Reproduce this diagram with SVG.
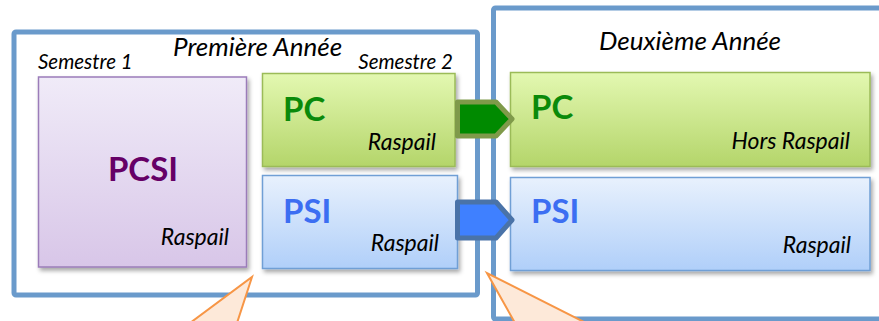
<svg xmlns="http://www.w3.org/2000/svg" width="879" height="321" viewBox="0 0 879 321">
<style>
.frame{fill:#ffffff;stroke:#6a9acb;stroke-width:5}
.lbl{font-family:Lato,"Open Sans","Liberation Sans",sans-serif;font-style:italic;fill:#000000}
.big{font-family:Lato,"Open Sans","Liberation Sans",sans-serif;font-weight:bold;font-size:33px}
.sm{font-size:20.5px}
.md{font-size:23px}
.ttl{font-size:26px}
.box{stroke-width:1.5;filter:url(#sh)}
.call{fill:#fde9d9;stroke:#f79646;stroke-width:2;stroke-linejoin:miter}
</style>
<defs>
<filter id="sh" x="-10%" y="-10%" width="125%" height="130%">
<feDropShadow dx="2" dy="3" stdDeviation="2" flood-color="#000000" flood-opacity="0.35"/>
</filter>
<linearGradient id="gPurple" x1="0" y1="0" x2="0" y2="1">
<stop offset="0" stop-color="#f0ebf8"/><stop offset="1" stop-color="#d8c6e8"/>
</linearGradient>
<linearGradient id="gGreen" x1="0" y1="0" x2="0" y2="1">
<stop offset="0" stop-color="#e3f8b1"/><stop offset="1" stop-color="#b4d56a"/>
</linearGradient>
<linearGradient id="gBlue" x1="0" y1="0" x2="0" y2="1">
<stop offset="0" stop-color="#e8f1fd"/><stop offset="1" stop-color="#b0cff9"/>
</linearGradient>
</defs>

<g id="premiere-annee">
<rect class="frame" x="14" y="32" width="463.5" height="263" rx="2"/>
<text class="lbl ttl" x="173" y="56">Première Année</text>
<text class="lbl sm" x="38" y="69">Semestre 1</text>
<text class="lbl sm" x="453" y="69" text-anchor="end">Semestre 2</text>
</g>

<g id="deuxieme-annee">
<rect class="frame" x="493.5" y="8" width="400" height="311" rx="2"/>
<text class="lbl ttl" x="690" y="50" text-anchor="middle">Deuxième Année</text>
</g>

<g id="pcsi">
<rect class="box" x="38.5" y="77" width="208" height="190" fill="url(#gPurple)" stroke="#9b7cb9"/>
<text class="big" x="143" y="181" text-anchor="middle" fill="#660066">PCSI</text>
<text class="lbl md" x="229" y="245" text-anchor="end">Raspail</text>
</g>

<g id="pc1">
<rect class="box" x="262.5" y="73.5" width="192.5" height="93" fill="url(#gGreen)" stroke="#9bbb59"/>
<text class="big" x="283" y="121" fill="#0a8a0a">PC</text>
<text class="lbl md" x="436" y="150" text-anchor="end">Raspail</text>
</g>

<g id="psi1">
<rect class="box" x="262.5" y="175.5" width="195" height="93" fill="url(#gBlue)" stroke="#6f9fd5"/>
<text class="big" x="283" y="223" fill="#3c6ef2">PSI</text>
<text class="lbl md" x="439" y="251" text-anchor="end">Raspail</text>
</g>

<g id="pc2">
<rect class="box" x="510.5" y="72.5" width="359.5" height="94" fill="url(#gGreen)" stroke="#9bbb59"/>
<text class="big" x="531" y="119" fill="#0a8a0a">PC</text>
<text class="lbl md" x="850" y="149" text-anchor="end">Hors Raspail</text>
</g>

<g id="psi2">
<rect class="box" x="510.5" y="177.5" width="359.5" height="93" fill="url(#gBlue)" stroke="#6f9fd5"/>
<text class="big" x="531" y="223" fill="#3c6ef2">PSI</text>
<text class="lbl md" x="851" y="253" text-anchor="end">Raspail</text>
</g>

<g id="connectors">
<path d="M457.5,102 L496,102 L512,119 L496,136 L457.5,136 Z" fill="#008a00" stroke="#7f9a4a" stroke-width="5" stroke-linejoin="round"/>
<path d="M457.5,202 L496,202 L512,220 L496,238 L457.5,238 Z" fill="#3f80ff" stroke="#4a73a8" stroke-width="5" stroke-linejoin="round"/>
</g>

<g id="callouts">
<path class="call" d="M190,323 L252,277 L237,323"/>
<path class="call" d="M515,323 L487,273 L586,323"/>
</g>
</svg>
